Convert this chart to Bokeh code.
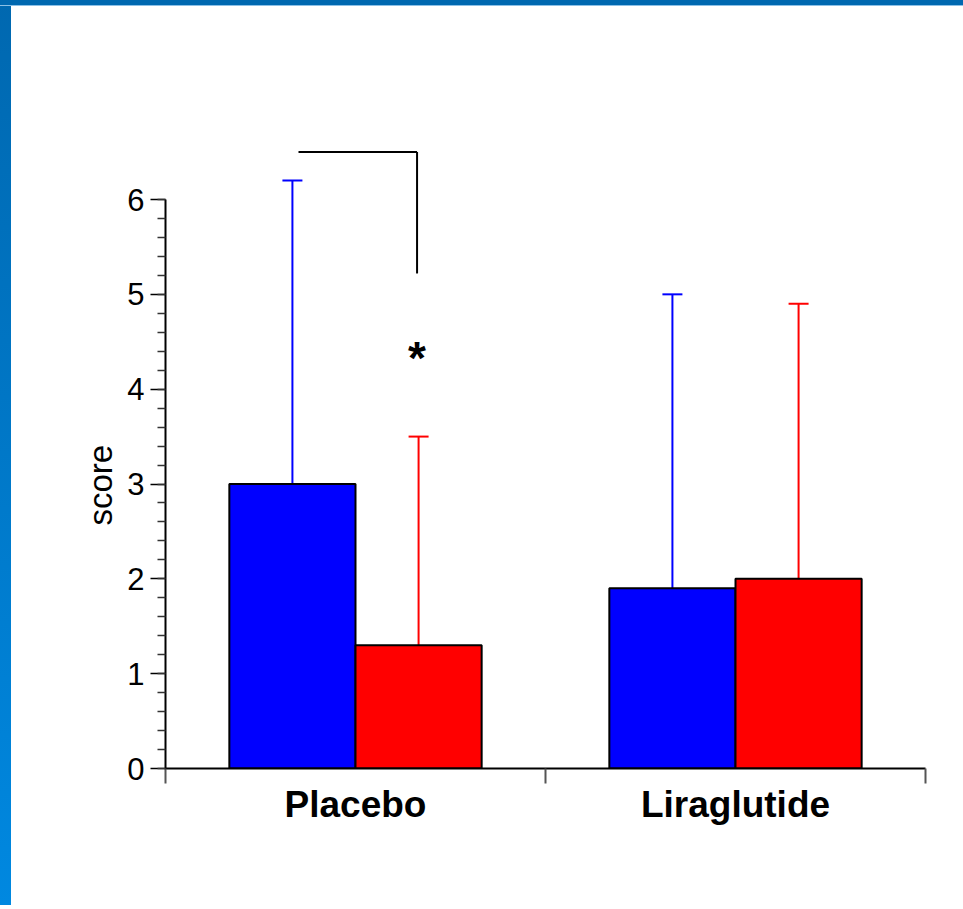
from bokeh.plotting import figure
from bokeh.models import Range1d, FixedTicker, Whisker, TeeHead, ColumnDataSource, Label, Title
from bokeh.embed import file_html
from bokeh.resources import INLINE

# ---- data ----
categories = ["Placebo", "Liraglutide"]
blue_means = [3.0, 1.9]
blue_upper = [6.2, 5.0]
red_means = [1.3, 2.0]
red_upper = [3.5, 4.9]
y_ticks = [0, 1, 2, 3, 4, 5, 6]
y_minor = [i / 5 for i in range(0, 31)]
y_title = "score"
sig_y = 6.5          # bracket level
sig_bottom = 5.22    # bracket vertical end
sig_star_y = 4.33    # asterisk baseline
sig_label = "*"

FONT = "Liberation Sans"
BAR_W = 0.332
BLUE = "#0000ff"
RED = "#ff0000"

x_blue = [i + 0.5 - BAR_W / 2 for i in range(len(categories))]
x_red = [i + 0.5 + BAR_W / 2 for i in range(len(categories))]

p = figure(width=963, height=905, output_backend="svg", toolbar_location=None,
           x_range=Range1d(0, 2), y_range=Range1d(0, 7.044),
           min_border_left=165, min_border_right=38, min_border_top=100, min_border_bottom=137)
p.border_fill_color = None
p.background_fill_color = None
p.outline_line_color = None
p.xgrid.visible = False
p.ygrid.visible = False
p.styles = {
    "background": "linear-gradient(#0068b0,#0068b0) top left / 100% 5px no-repeat, "
                  "linear-gradient(#8cc0e6,#8cc0e6) 0 5px / 100% 1px no-repeat, "
                  "linear-gradient(to bottom,#0068b0,#0088e0) top left / 11px 100% no-repeat, #ffffff"
}

src_b = ColumnDataSource(dict(x=x_blue, top=blue_means, upper=blue_upper))
src_r = ColumnDataSource(dict(x=x_red, top=red_means, upper=red_upper))

for src, col in ((src_b, BLUE), (src_r, RED)):
    w = Whisker(source=src, base="x", lower="top", upper="upper", line_color=col, line_width=2,
                upper_head=TeeHead(size=20, line_color=col, line_width=2), lower_head=None)
    p.add_layout(w)
    p.vbar(x="x", top="top", bottom=0, width=BAR_W, source=src, fill_color=col,
           line_color="black", line_width=2)

# significance bracket
xb0 = x_blue[0] + 0.016
xb1 = x_red[0] - 0.004
p.line([xb0, xb1], [sig_y, sig_y], line_color="black", line_width=2)
p.line([xb1, xb1], [sig_y, sig_bottom], line_color="black", line_width=2)
p.add_layout(Label(x=xb1, y=sig_star_y, text=sig_label, text_align="center",
                   text_baseline="alphabetic", text_font=FONT, text_font_size="46px",
                   text_font_style="bold", text_color="black"))

# y axis
ya = p.yaxis[0]
ya.ticker = FixedTicker(ticks=y_ticks, minor_ticks=y_minor)
ya.bounds = (0, 6)
ya.axis_line_width = 2
ya.axis_line_color = "black"
ya.major_tick_out = 15
ya.major_tick_in = 0
ya.minor_tick_out = 8
ya.minor_tick_in = 0
ya.major_tick_line_width = 1.5
ya.minor_tick_line_width = 1.5
ya.major_tick_line_color = "black"
ya.minor_tick_line_color = "#333333"
ya.major_label_text_font = FONT
ya.major_label_text_font_size = "31px"
ya.major_label_text_color = "black"
ya.major_label_standoff = 6

# y title, placed over the 0..6 span as in the reference
p.add_layout(Title(text=y_title, align="left", offset=243, standoff=12, text_font=FONT,
                   text_font_size="33px", text_font_style="normal", text_color="black"), "left")

# x axis
xa = p.xaxis[0]
xa.ticker = FixedTicker(ticks=[i + 0.5 for i in range(len(categories))],
                        minor_ticks=list(range(len(categories) + 1)))
xa.major_label_overrides = {i + 0.5: c for i, c in enumerate(categories)}
xa.bounds = (0, 2)
xa.axis_line_width = 2
xa.axis_line_color = "black"
xa.major_tick_out = 0
xa.major_tick_in = 0
xa.minor_tick_out = 15
xa.minor_tick_in = 0
xa.minor_tick_line_width = 2
xa.minor_tick_line_color = "#555555"
xa.major_label_text_font = FONT
xa.major_label_text_font_size = "37px"
xa.major_label_text_font_style = "bold"
xa.major_label_text_color = "black"
xa.major_label_standoff = 0

html = file_html(p, INLINE)
html = html.replace("<head>", "<head><style>html,body{margin:0;padding:0;overflow:hidden;}</style>", 1)
open("out.html", "w").write(html)
